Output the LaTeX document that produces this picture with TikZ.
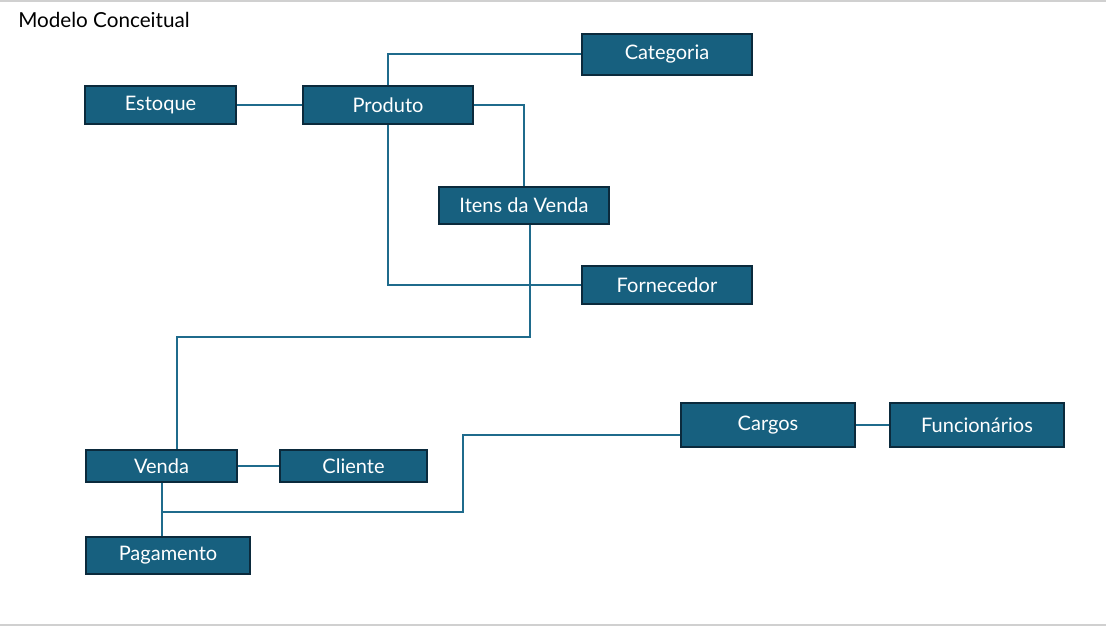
\documentclass[tikz,border=0pt]{standalone}
\usepackage{fontspec}
\setmainfont{Lato}
\usetikzlibrary{calc}

\definecolor{caixa}{HTML}{17607F}
\definecolor{borda}{HTML}{0B2A3C}
\definecolor{linha}{HTML}{1F6B8C}
\definecolor{cinza}{HTML}{D0D0D0}

\tikzset{
    entidade/.style={draw=borda, fill=caixa, line width=1.5pt, text=white,
        inner sep=0pt, font=\fontsize{15}{17}\selectfont},
    ligacao/.style={draw=linha, line width=1.5pt}
}

\begin{document}
\begin{tikzpicture}[x=0.75pt, y=-0.75pt]

    % area do desenho
    \useasboundingbox (0,0) rectangle (1106,627);
    \draw[cinza, line width=1pt] (0,1) -- (1106,1);
    \draw[cinza, line width=1pt] (0,625) -- (1106,625);

    % titulo
    \node[anchor=base west, inner sep=0pt, font=\fontsize{15.5}{17}\selectfont] (titulo) at (18,28) {Modelo Conceitual};

    % entidades
    \node[entidade, minimum width=127.5pt, minimum height=30.75pt] (categoria) at (667,54.5) {Categoria};
    \node[entidade, minimum width=113.25pt, minimum height=28.5pt] (estoque) at (160.5,105) {Estoque};
    \node[entidade, minimum width=127.5pt, minimum height=28.5pt] (produto) at (388,105) {Produto};
    \node[entidade, minimum width=127.5pt, minimum height=27.75pt] (itens) at (524,205.5) {Itens da Venda};
    \node[entidade, minimum width=127.5pt, minimum height=28.5pt] (fornecedor) at (667,285) {Fornecedor};
    \node[entidade, minimum width=130.5pt, minimum height=33pt] (cargos) at (768,425) {Cargos};
    \node[entidade, minimum width=130.5pt, minimum height=33pt] (funcionarios) at (977,425) {Funcionários};
    \node[entidade, minimum width=113.25pt, minimum height=24pt] (venda) at (161.5,466) {Venda};
    \node[entidade, minimum width=110.25pt, minimum height=24pt] (cliente) at (353.5,466) {Cliente};
    \node[entidade, minimum width=123pt, minimum height=27.75pt] (pagamento) at (168,555.5) {Pagamento};

    % pontos de apoio
    \coordinate (itensbaixo) at ($(itens.south)+(6,0)$);
    \coordinate (vendatopo) at ($(venda.north)+(15.5,0)$);
    \coordinate (juncao) at (venda.south |- 0,512);
    \coordinate (cargosbaixo) at ($(cargos.west)+(0,10)$);

    % ligacoes
    \draw[ligacao] (produto.north) |- (categoria.west);
    \draw[ligacao] (estoque.east) -- (produto.west);
    \draw[ligacao] (produto.east) -| (itens.north);
    \draw[ligacao] (produto.south) |- (fornecedor.west);
    \draw[ligacao] (itensbaixo) -- ++(0,112) -| (vendatopo);
    \draw[ligacao] (venda.east) -- (cliente.west);
    \draw[ligacao] (venda.south) -- (venda.south |- pagamento.north);
    \draw[ligacao] (juncao) -- (463,512) |- (cargosbaixo);
    \draw[ligacao] (cargos.east) -- (funcionarios.west);

\end{tikzpicture}
\end{document}
